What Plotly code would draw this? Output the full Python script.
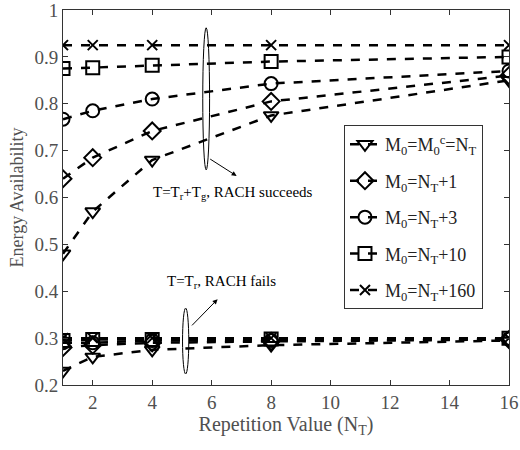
import plotly.graph_objects as go

x_vals = [1, 2, 4, 8, 16]
labels = ["M<sub>0</sub>=M<sub>0</sub><sup>c</sup>=N<sub>T</sub>",
          "M<sub>0</sub>=N<sub>T</sub>+1",
          "M<sub>0</sub>=N<sub>T</sub>+3",
          "M<sub>0</sub>=N<sub>T</sub>+10",
          "M<sub>0</sub>=N<sub>T</sub>+160"]
symbols = ["triangle-down-open", "diamond-open", "circle-open", "square-open", "x-thin-open"]

succeed_vals = [
    [0.48, 0.57, 0.68, 0.775, 0.85],
    [0.64, 0.685, 0.742, 0.805, 0.86],
    [0.767, 0.785, 0.81, 0.843, 0.87],
    [0.875, 0.877, 0.882, 0.89, 0.90],
    [0.925, 0.925, 0.925, 0.925, 0.925],
]
fail_vals = [
    [0.23, 0.26, 0.275, 0.285, 0.295],
    [0.28, 0.285, 0.29, 0.293, 0.297],
    [0.29, 0.29, 0.295, 0.295, 0.298],
    [0.295, 0.297, 0.297, 0.298, 0.30],
    [0.30, 0.30, 0.30, 0.30, 0.30],
]
x_ticks = [2, 4, 6, 8, 10, 12, 14, 16]
y_ticks = [0.2, 0.3, 0.4, 0.5, 0.6, 0.7, 0.8, 0.9, 1.0]
y_ticklabels = ["0.2", "0.3", "0.4", "0.5", "0.6", "0.7", "0.8", "0.9", "1"]

FONT = "Liberation Serif, Times New Roman, serif"
fig = go.Figure()


def msize(sym):
    return 10 if sym == "x-thin-open" else 13


for i in range(5):
    fig.add_trace(go.Scatter(
        x=x_vals, y=succeed_vals[i], mode="lines+markers", name=labels[i],
        legendgroup="g%d" % i,
        line=dict(color="black", width=2.5, dash="dash"),
        marker=dict(symbol=symbols[i], size=msize(symbols[i]), color="black",
                    line=dict(color="black", width=2)),
        showlegend=True))
for i in range(5):
    fig.add_trace(go.Scatter(
        x=x_vals, y=fail_vals[i], mode="lines+markers", name=labels[i],
        legendgroup="g%d" % i,
        line=dict(color="black", width=2.5, dash="dash"),
        marker=dict(symbol=symbols[i], size=msize(symbols[i]), color="black",
                    line=dict(color="black", width=2)),
        showlegend=False))

# ellipses
fig.add_shape(type="circle", xref="x", yref="y", x0=5.70, x1=5.93, y0=0.659, y1=0.962,
              line=dict(color="black", width=1))
fig.add_shape(type="circle", xref="x", yref="y", x0=5.02, x1=5.23, y0=0.2235, y1=0.364,
              line=dict(color="black", width=1))

fig.add_annotation(x=6.84, y=0.646, ax=5.90, ay=0.684, xref="x", yref="y", axref="x", ayref="y",
                   text="", showarrow=True, arrowhead=2, arrowsize=1, arrowwidth=1, arrowcolor="black")
fig.add_annotation(x=6.20, y=0.383, ax=5.29, ay=0.324, xref="x", yref="y", axref="x", ayref="y",
                   text="", showarrow=True, arrowhead=2, arrowsize=1, arrowwidth=1, arrowcolor="black")
fig.add_annotation(x=6.71, y=0.61, xref="x", yref="y", showarrow=False,
                   text="T=T<sub>r</sub>+T<sub>g</sub>, RACH succeeds",
                   font=dict(family=FONT, size=15, color="black"))
fig.add_annotation(x=6.34, y=0.42, xref="x", yref="y", showarrow=False,
                   text="T=T<sub>r</sub>, RACH fails",
                   font=dict(family=FONT, size=15, color="black"))

axis_common = dict(showline=True, linecolor="#333333", linewidth=1, mirror="ticks",
                   ticks="inside", ticklen=5, tickcolor="#333333", showgrid=False, zeroline=False,
                   automargin=False, ticklabeloverflow="allow",
                   tickfont=dict(family=FONT, size=19, color="#505050"))
fig.update_xaxes(range=[1, 16], tickvals=x_ticks, **axis_common,
                 title=dict(text="Repetition Value (N<sub>T</sub>)",
                            font=dict(family=FONT, size=20, color="#505050"), standoff=2))
fig.update_yaxes(range=[0.2, 1.0], tickvals=y_ticks, ticktext=y_ticklabels, **axis_common,
                 title=dict(text="Energy Availability",
                            font=dict(family=FONT, size=18, color="#505050"), standoff=6))

fig.update_layout(
    width=520, height=450,
    margin=dict(l=63, r=11, t=10, b=65),
    plot_bgcolor="white", paper_bgcolor="white",
    legend=dict(x=0.63, y=0.693, xanchor="left", yanchor="top",
                bordercolor="#333333", borderwidth=1, bgcolor="white",
                font=dict(family=FONT, size=18, color="#222222"),
                tracegroupgap=10, itemwidth=30),
)
fig.write_html("out.html")
